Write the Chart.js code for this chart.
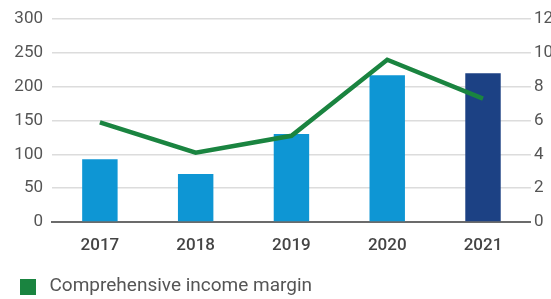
<!DOCTYPE html>
<html>
<head>
<meta charset="utf-8">
<script src="https://cdn.jsdelivr.net/npm/chart.js@4/dist/chart.umd.min.js"></script>
<style>
  html, body { margin: 0; padding: 0; background: #fff; overflow: hidden; }
  #wrap { width: 556px; height: 299px; }
</style>
</head>
<body>
<div id="wrap"><canvas id="chart"></canvas></div>
<script>
const YEARS = ['2017', '2018', '2019', '2020', '2021']
const INCOME = [93, 71, 130, 217, 220]
const MARGIN = [5.9, 4.1, 5.1, 9.6, 7.3]
const LEFT_TICKS = [0, 50, 100, 150, 200, 250, 300]
const RIGHT_TICKS = [0, 2, 4, 6, 8, 10, 12]

const COLORS = {
  blue: '#0E96D4',
  navy: '#1C4184',
  green: '#1A8440',
  text: '#555555',
  grid: '#dcdcdc',
  axis: '#6b6b6b'
}

Chart.defaults.font.family = 'Roboto, "Open Sans", sans-serif'
Chart.defaults.color = COLORS.text

// square legend marker, offset so the gap matches the original
const marker = document.createElement('canvas')
marker.width = 26
marker.height = 16
const mctx = marker.getContext('2d')
mctx.fillStyle = COLORS.green
mctx.fillRect(6, 0, 16, 16)

const barColors = YEARS.map((y, i) => i === YEARS.length - 1 ? COLORS.navy : COLORS.blue)

// legend adds 10px extra height by default, drop it so it sits lower
const tightLegend = {
  id: 'tightLegend',
  beforeInit(chart) {
    const fit = chart.legend.fit
    chart.legend.fit = function () {
      fit.call(this)
      this.height -= 10
    }
  }
}

const data = {
  labels: YEARS,
  datasets: [{
    type: 'line',
    label: 'Comprehensive income margin',
    data: MARGIN,
    yAxisID: 'y1',
    borderColor: COLORS.green,
    backgroundColor: COLORS.green,
    borderWidth: 4.5,
    pointRadius: 0,
    tension: 0,
    order: 0
  }, {
    type: 'bar',
    label: 'Comprehensive income',
    data: INCOME,
    yAxisID: 'y',
    backgroundColor: barColors,
    barPercentage: 0.37,
    categoryPercentage: 1,
    order: 1
  }]
}

const options = {
  responsive: true,
  maintainAspectRatio: false,
  animation: false,
  layout: { padding: { left: 10, top: 10, right: 0, bottom: 3 } },
  scales: {
    x: {
      grid: { display: false },
      border: { display: true, color: COLORS.axis, width: 2 },
      afterFit: scale => { scale.height = 51 },
      ticks: { font: { size: 17, weight: '500' }, color: '#444', padding: 6 }
    },
    y: {
      position: 'left',
      min: 0, max: 300,
      afterBuildTicks: scale => { scale.ticks = LEFT_TICKS.map(v => ({ value: v })) },
      afterFit: scale => { scale.width = 42 },
      grid: { color: COLORS.grid, lineWidth: 1.5, drawTicks: false },
      border: { display: false },
      ticks: { font: { size: 17 }, padding: 9 }
    },
    y1: {
      position: 'right',
      min: 0, max: 12,
      afterBuildTicks: scale => { scale.ticks = RIGHT_TICKS.map(v => ({ value: v })) },
      grid: { display: false, drawTicks: false },
      border: { display: false },
      ticks: { font: { size: 17 }, padding: 3 }
    }
  },
  plugins: {
    legend: {
      position: 'bottom',
      align: 'start',
      labels: {
        filter: item => item.datasetIndex === 0,
        usePointStyle: true,
        pointStyle: marker,
        pointStyleWidth: 26,
        boxHeight: 16,
        font: { size: 19 },
        color: COLORS.text,
        padding: 4
      }
    },
    tooltip: { enabled: false }
  }
}

new Chart(document.getElementById('chart'), {
  data: data,
  options: options,
  plugins: [tightLegend]
})
</script>
</body>
</html>
